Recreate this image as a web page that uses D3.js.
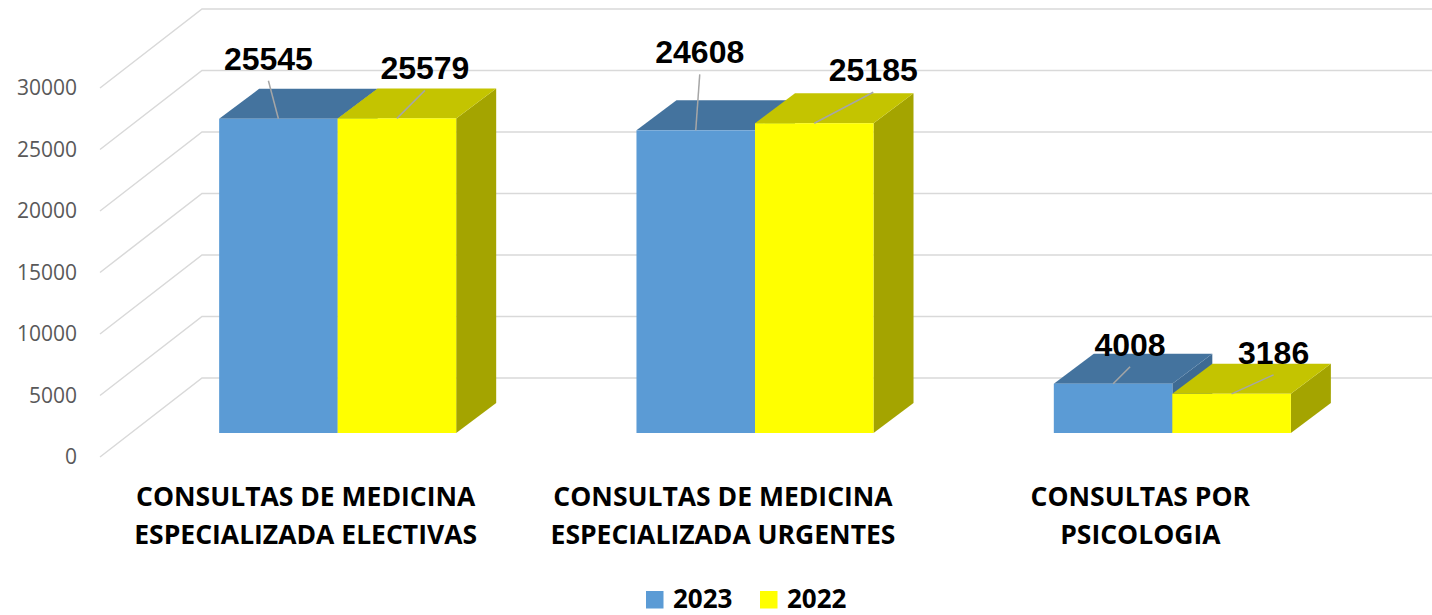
<!DOCTYPE html>
<html>
<head>
<meta charset="utf-8">
<script src="https://cdn.jsdelivr.net/npm/d3@7"></script>
<style>
  body { margin: 0; background: #fff; }
  .tick-label { font: 21px 'Open Sans', sans-serif; fill: #595959; }
  .value-label { font: bold 32px 'Liberation Sans', Arial, sans-serif; fill: #000; }
  .cat-label { font: bold 26.5px 'Open Sans', sans-serif; fill: #000; }
  .legend-label { font: bold 26px 'Open Sans', sans-serif; fill: #000; }
</style>
</head>
<body>
<div id="chart"></div>
<script>
// data
var categories = [
  ['CONSULTAS DE MEDICINA', 'ESPECIALIZADA ELECTIVAS'],
  ['CONSULTAS DE MEDICINA', 'ESPECIALIZADA URGENTES'],
  ['CONSULTAS POR', 'PSICOLOGIA']
];
var seriesNames = ['2023', '2022'];
var values2023 = [25545, 24608, 4008];
var values2022 = [25579, 25185, 3186];
var yTicks = [0, 5000, 10000, 15000, 20000, 25000, 30000];

// label nudges (layout only), relative to the top front edge of each bar
var labelNudge = {
  '2023': [[-10, -49], [4, -67], [17, -28]],
  '2022': [[28, -39], [59, -42], [42, -30]]
};

var colors = {
  '2023': { front: '#5B9BD5', top: '#44739E', side: '#3E6A93' },
  '2022': { front: '#FFFF00', top: '#C4C400', side: '#A4A400' }
};

var width = 1432, height = 615;
var svg = d3.select('#chart').append('svg')
  .attr('width', width)
  .attr('height', height);

// bar face plane and the front edge of the floor
var yBar = d3.scaleLinear().domain([0, 30000]).range([433, 64]);
var yFront = d3.scaleLinear().domain([0, 30000]).range([457, 88]);
var wallDx = 102, wallDy = -79;
var depthDx = 40, depthDy = -30;

var x = d3.scaleBand()
  .domain(d3.range(categories.length))
  .range([129, 1381])
  .paddingInner(0.432)
  .paddingOuter(0.216);
var x1 = d3.scaleBand().domain(seriesNames).range([0, x.bandwidth()]);

// gridlines: diagonal on the side wall, then flat across the back wall
var grid = svg.append('g');
yTicks.forEach(function (t) {
  var yf = yFront(t);
  grid.append('path')
    .attr('d', 'M100,' + yf + 'L' + (100 + wallDx) + ',' + (yf + wallDy) + 'L' + width + ',' + (yf + wallDy))
    .attr('fill', 'none')
    .attr('stroke', '#D9D9D9')
    .attr('stroke-width', 1.5);
});

svg.append('g').selectAll('text')
  .data(yTicks)
  .enter().append('text')
  .attr('class', 'tick-label')
  .attr('x', 77)
  .attr('y', function (d) { return yFront(d); })
  .attr('dy', '0.35em')
  .attr('text-anchor', 'end')
  .text(function (d) { return d; });

// bars
var bars = [];
categories.forEach(function (c, i) {
  seriesNames.forEach(function (s) {
    var v = s === '2023' ? values2023[i] : values2022[i];
    bars.push({ cat: i, series: s, value: v });
  });
});

var barG = svg.append('g');
bars.forEach(function (d) {
  var x0 = x(d.cat) + x1(d.series), w = x1.bandwidth();
  var yt = yBar(d.value), yb = yBar(0);
  var col = colors[d.series];
  var g = barG.append('g');
  g.append('polygon')
    .attr('points', [[x0 + w, yt], [x0 + w + depthDx, yt + depthDy], [x0 + w + depthDx, yb + depthDy], [x0 + w, yb]].join(' '))
    .attr('fill', col.side);
  g.append('polygon')
    .attr('points', [[x0, yt], [x0 + depthDx, yt + depthDy], [x0 + w + depthDx, yt + depthDy], [x0 + w, yt]].join(' '))
    .attr('fill', col.top);
  g.append('rect')
    .attr('x', x0).attr('y', yt)
    .attr('width', w).attr('height', yb - yt)
    .attr('fill', col.front);
});

// value labels with leader lines
var labG = svg.append('g');
bars.forEach(function (d) {
  var cx = x(d.cat) + x1(d.series) + x1.bandwidth() / 2;
  var yt = yBar(d.value);
  var n = labelNudge[d.series][d.cat];
  var lx = cx + n[0], ly = yt + n[1];
  labG.append('line')
    .attr('x1', lx).attr('y1', ly + 11)
    .attr('x2', cx).attr('y2', yt)
    .attr('stroke', '#A6A6A6')
    .attr('stroke-width', 1.5);
  labG.append('text')
    .attr('class', 'value-label')
    .attr('x', lx).attr('y', ly)
    .attr('text-anchor', 'middle')
    .text(d.value);
});

// category labels sit on the front edge of the floor
var catG = svg.append('g');
categories.forEach(function (lines, i) {
  var cx = x(i) + x.bandwidth() / 2 - 32;
  var t = catG.append('text')
    .attr('class', 'cat-label')
    .attr('text-anchor', 'middle');
  lines.forEach(function (l, k) {
    t.append('tspan').attr('x', cx).attr('y', 506 + k * 38).text(l);
  });
});

// legend
var legendX = [646, 760];
var leg = svg.append('g');
seriesNames.forEach(function (s, i) {
  leg.append('rect')
    .attr('x', legendX[i]).attr('y', 591)
    .attr('width', 17.5).attr('height', 17.5)
    .attr('fill', colors[s].front);
  leg.append('text')
    .attr('class', 'legend-label')
    .attr('x', legendX[i] + 27).attr('y', 608)
    .text(s);
});
</script>
</body>
</html>
